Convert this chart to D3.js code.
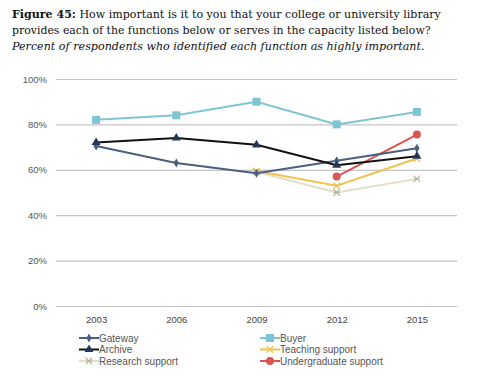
<!DOCTYPE html>
<html>
<head>
<meta charset="utf-8">
<script src="https://cdn.jsdelivr.net/npm/d3@7"></script>
<style>
  body { margin: 0; background: #fff; }
  svg { display: block; }
</style>
</head>
<body>
<svg id="chart" width="483" height="387"></svg>
<script>
// data
var years = ['2003', '2006', '2009', '2012', '2015'];
var gateway = [70.5, 63, 58.5, 64, 69.5];
var buyer = [82, 84, 90, 80, 85.5];
var archive = [72, 74, 71, 62, 66];
var teaching = [null, null, 59.5, 53, 65];
var research = [null, null, 59, 50, 56];
var undergrad = [null, null, null, 57, 75.5];
var yTicks = [0, 20, 40, 60, 80, 100];

var series = [
  { name: 'Gateway', values: gateway, color: '#4a5e80', marker: 'diamond', col: 0, row: 0 },
  { name: 'Buyer', values: buyer, color: '#7fc4d3', marker: 'square', col: 1, row: 0 },
  { name: 'Archive', values: archive, color: '#111111', marker: 'triangle', col: 0, row: 1 },
  { name: 'Teaching support', values: teaching, color: '#f0c24f', marker: 'star', col: 1, row: 1 },
  { name: 'Research support', values: research, color: '#e3dec7', marker: 'cross', col: 0, row: 2 },
  { name: 'Undergraduate support', values: undergrad, color: '#db5450', marker: 'circle', col: 1, row: 2 }
];

var svg = d3.select('#chart');

// title block - font size fitted so each line ends where the original does
function fitLine(sel, target) {
  var w = sel.node().getComputedTextLength();
  sel.attr('font-size', 13 * target / w);
}
var title = svg.append('g').attr('font-family', '"DejaVu Serif", Georgia, serif').attr('fill', '#111');
var t1 = title.append('text').attr('x', 12).attr('y', 18).attr('font-size', 13);
t1.append('tspan').attr('font-weight', 'bold').text('Figure 45:');
t1.append('tspan').text(' How important is it to you that your college or university library');
fitLine(t1, 429);
var t2 = title.append('text').attr('x', 12).attr('y', 34).attr('font-size', 13)
  .text('provides each of the functions below or serves in the capacity listed below?');
fitLine(t2, 419);
var t3 = title.append('text').attr('x', 12).attr('y', 50).attr('font-size', 13).attr('font-style', 'italic')
  .text('Percent of respondents who identified each function as highly important.');
fitLine(t3, 413);

var x = d3.scalePoint().domain(years).range([56, 457]).padding(0.5);
var y = d3.scaleLinear().domain([0, 100]).range([306, 79]);

// gridlines + y labels
var yAxis = d3.axisLeft(y).tickValues(yTicks).tickSize(-(457 - 56)).tickPadding(9)
  .tickFormat(function(d) { return d + '%'; });
var gy = svg.append('g').attr('transform', 'translate(56,0)').call(yAxis);
gy.select('.domain').remove();
gy.selectAll('line').attr('stroke', '#c4c4c4').attr('stroke-width', 1.2);
gy.selectAll('text').attr('font-family', 'Arial, "Liberation Sans", sans-serif')
  .attr('font-size', 9.5).attr('fill', '#555');

var xAxis = d3.axisBottom(x).tickSize(0).tickPadding(10);
var gx = svg.append('g').attr('transform', 'translate(0,306)').call(xAxis);
gx.select('.domain').remove();
gx.selectAll('text').attr('font-family', 'Arial, "Liberation Sans", sans-serif')
  .attr('font-size', 9.5).attr('fill', '#444');

function drawMarker(g, kind, color, cx, cy) {
  if (kind === 'diamond') {
    g.append('path').attr('d', d3.symbol().type(d3.symbolDiamond).size(24)())
      .attr('transform', 'translate(' + cx + ',' + cy + ')').attr('fill', color);
  } else if (kind === 'square') {
    g.append('rect').attr('x', cx - 4).attr('y', cy - 4).attr('width', 8).attr('height', 8).attr('fill', color);
  } else if (kind === 'triangle') {
    g.append('path').attr('d', d3.symbol().type(d3.symbolTriangle).size(34)())
      .attr('transform', 'translate(' + cx + ',' + cy + ')').attr('fill', '#24355a');
  } else if (kind === 'circle') {
    g.append('circle').attr('cx', cx).attr('cy', cy).attr('r', 4).attr('fill', color);
  } else if (kind === 'star') {
    g.append('path').attr('d', d3.symbol().type(d3.symbolX).size(30)())
      .attr('transform', 'translate(' + cx + ',' + cy + ')').attr('fill', 'none')
      .attr('stroke', color).attr('stroke-width', 1.2);
  } else if (kind === 'cross') {
    g.append('path').attr('d', d3.symbol().type(d3.symbolX).size(30)())
      .attr('transform', 'translate(' + cx + ',' + cy + ')').attr('fill', 'none')
      .attr('stroke', '#b9b39c').attr('stroke-width', 1.2);
    g.append('path').attr('d', 'M' + (cx - 3) + ',' + cy + 'H' + (cx + 3))
      .attr('stroke', '#b9b39c').attr('stroke-width', 1);
  }
}

var line = d3.line()
  .defined(function(d) { return d.v != null; })
  .x(function(d) { return x(d.year); })
  .y(function(d) { return y(d.v); });

// draw order so black/blue lines sit above pale ones like the original
var drawOrder = [4, 3, 5, 1, 0, 2];
drawOrder.forEach(function(i) {
  var s = series[i];
  var pts = years.map(function(yr, j) { return { year: yr, v: s.values[j] }; });
  var g = svg.append('g');
  g.append('path').datum(pts).attr('d', line).attr('fill', 'none')
    .attr('stroke', s.color).attr('stroke-width', 2);
  pts.forEach(function(p) {
    if (p.v != null) drawMarker(g, s.marker, s.color, x(p.year), y(p.v));
  });
});

// legend
var legend = svg.append('g');
series.forEach(function(s) {
  var lx = s.col === 0 ? 79 : 260;
  var ly = 338 + s.row * 11.5;
  var g = legend.append('g');
  g.append('line').attr('x1', lx).attr('x2', lx + 20).attr('y1', ly).attr('y2', ly)
    .attr('stroke', s.color).attr('stroke-width', 2);
  drawMarker(g, s.marker, s.color, lx + 10, ly);
  g.append('text').attr('x', lx + 20).attr('y', ly + 3.5)
    .attr('font-family', 'Arial, "Liberation Sans", sans-serif').attr('font-size', 10)
    .attr('fill', '#555').text(s.name);
});
</script>
</body>
</html>
